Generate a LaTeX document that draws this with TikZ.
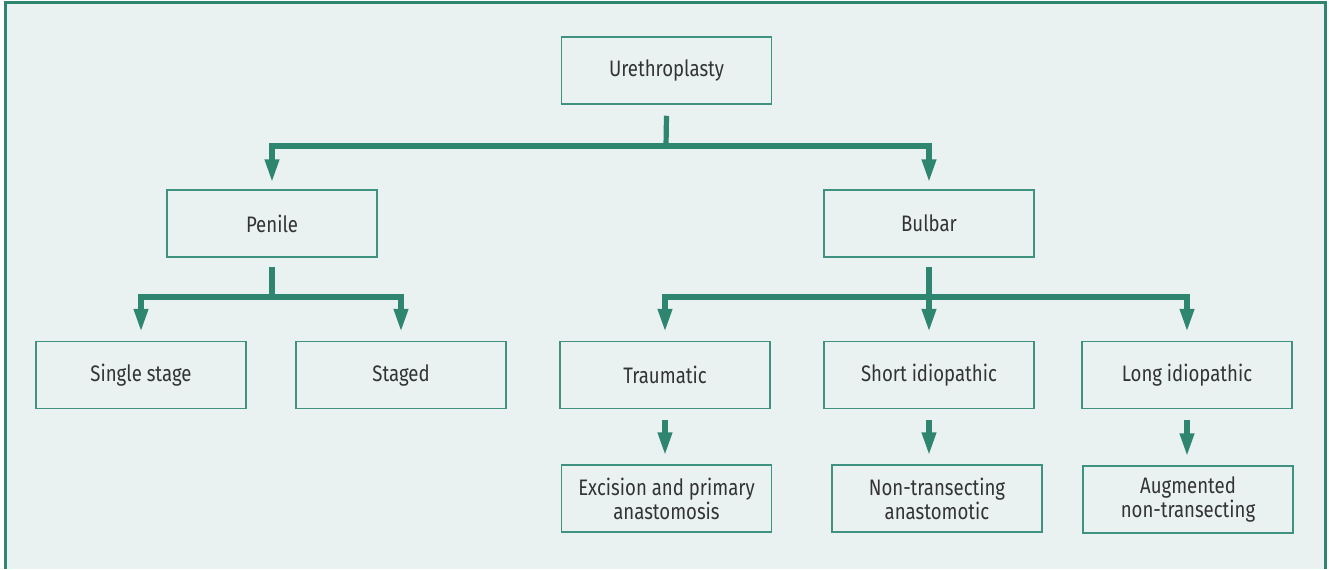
\documentclass[tikz,border=0pt]{standalone}
\usepackage{fontspec}
\setmainfont{Fira Sans}[FakeStretch = 0.83]
\usetikzlibrary{arrows.meta}
\definecolor{panelbg}{HTML}{E9F2F1}
\definecolor{teal}{HTML}{2E8570}
\definecolor{boxline}{HTML}{3F927F}
\definecolor{txt}{HTML}{333333}

\begin{document}
\begin{tikzpicture}[x = 0.5pt, y = -0.5pt,
	box/.style = {draw = boxline, line width = 0.75pt, minimum width = 105pt,
		minimum height = 33.5pt, inner sep = 0pt, align = center, text = txt,
		font = \fontsize{11.2}{12}\selectfont},
	link/.style = {draw = teal, line width = 2.6pt},
	tip/.style = {-{Triangle[length = 11.5pt, width = 6.8pt]}},
	tips/.style = {{Triangle[length = 11.5pt, width = 6.8pt]}-{Triangle[length = 11.5pt, width = 6.8pt]}}]
	\useasboundingbox (0, 0) rectangle (1329, 569);
	% panel
	\fill[panelbg] (5, 2) rectangle (1325, 569);
	\draw[teal, line width = 1.5pt] (5, 569) -- (5, 2) -- (1325, 2) -- (1325, 569);
	% boxes
	\node[box] (ureth)    at (666.5, 70.5)  {Urethroplasty};
	\node[box] (penile)   at (272,  223.5)  {Penile};
	\node[box] (bulbar)   at (929,  223.5)  {Bulbar};
	\node[box] (single)   at (141,  375)    {Single stage};
	\node[box] (staged)   at (401,  375)    {Staged};
	\node[box] (traum)    at (665,  375)    {Traumatic};
	\node[box] (shortid)  at (929,  375)    {Short idiopathic};
	\node[box] (longid)   at (1187, 375)    {Long idiopathic};
	\node[box] (excision) at (666.5, 498.5) {Excision and primary\\anastomosis};
	\node[box] (nontrans) at (937,  498.5)  {Non-transecting\\anastomotic};
	\node[box] (augment)  at (1188, 499.5)  {Augmented\\non-transecting};
	% bars
	\coordinate (bar1) at (666, 146);
	\coordinate (bar2) at (272, 297);
	\coordinate (bar3) at (929, 297);
	% first level
	\draw[link] ([yshift = -5.5pt]ureth.south) -- (bar1);
	\draw[link, tips] ([yshift = 3.5pt]penile.north) |- (bar1) -| ([yshift = 3.5pt]bulbar.north);
	% penile
	\draw[link] ([yshift = -4.5pt]penile.south) -- (bar2);
	\draw[link, tips] ([yshift = 4.5pt]single.north) |- (bar2) -| ([yshift = 4.5pt]staged.north);
	% bulbar
	\draw[link, tip] ([yshift = -4.5pt]bulbar.south) -- ([yshift = 4.5pt]shortid.north);
	\draw[link, tips] ([yshift = 4.5pt]traum.north) |- (bar3) -| ([yshift = 4.5pt]longid.north);
	% last level
	\draw[link, tip] ([yshift = -5.5pt]traum.south) -- ([yshift = 4.5pt]traum.south |- excision.north);
	\draw[link, tip] ([yshift = -5.5pt]shortid.south) -- ([yshift = 4.5pt]shortid.south |- nontrans.north);
	\draw[link, tip] ([yshift = -5.5pt]longid.south) -- ([yshift = 4.5pt]longid.south |- augment.north);
\end{tikzpicture}
\end{document}
